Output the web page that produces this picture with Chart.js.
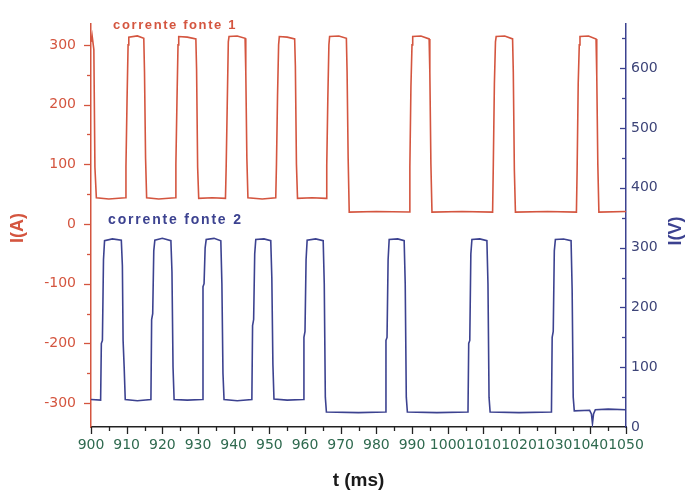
<!DOCTYPE html>
<html>
<head>
<meta charset="utf-8">
<script src="https://cdn.jsdelivr.net/npm/chart.js@4/dist/chart.umd.min.js"></script>
<style>
    html, body { margin: 0; padding: 0; background: #ffffff; }
    #wrap { width: 686px; height: 497px; position: relative; }
</style>
</head>
<body>
<div id="wrap"><canvas id="waveChart"></canvas></div>
<script>
/*
============================================================
Data
------------------------------------------------------------
*/

const tFonte1 = [
    900.0, 900.3, 900.8, 901.1, 901.5, 905.0, 909.6,
    909.8, 910.1, 910.4, 910.6, 913.0, 914.8, 915.0, 915.3, 915.6, 919.0, 923.6,
    923.8, 924.1, 924.4, 924.6, 927.0, 929.4, 929.6, 929.9, 930.2, 934.0, 937.7,
    937.9, 938.2, 938.5, 938.7, 941.0, 943.2, 943.4, 943.7, 944.0, 948.0, 951.8,
    952.0, 952.3, 952.6, 952.8, 955.0, 957.1, 957.3, 957.6, 957.9, 962.0, 965.9,
    966.1, 966.4, 966.7, 966.9, 969.5, 971.6, 971.8, 972.1, 972.4, 980.0, 989.2,
    989.4, 989.7, 990.0, 990.2, 992.5, 994.8, 995.0, 995.3, 995.6, 1004.0, 1012.6,
    1012.8, 1013.1, 1013.4, 1013.6, 1016.0, 1018.2, 1018.4, 1018.7, 1019.0, 1028.0, 1036.1,
    1036.3, 1036.6, 1036.9, 1037.1, 1039.5, 1041.6, 1041.8, 1042.1, 1042.4, 1050.0
];

const iFonte1 = [
    305, 316, 292, 95, 44, 42, 44,
    96, 205, 300, 313, 315, 311, 255, 110, 44, 42, 44,
    100, 205, 300, 314, 313, 310, 260, 95, 43, 44, 43,
    96, 200, 305, 314, 315, 311, 255, 110, 44, 42, 44,
    100, 215, 300, 314, 313, 310, 265, 100, 43, 44, 43,
    98, 210, 300, 314, 315, 311, 255, 110, 20, 21, 20,
    95, 230, 300, 314, 315, 310, 255, 100, 20, 21, 20,
    100, 235, 305, 314, 315, 310, 255, 90, 20, 21, 20,
    92, 235, 300, 314, 315, 310, 250, 100, 20, 21
];

const tFonte2 = [
    900.0, 902.7,
    902.9, 903.2, 903.5, 903.8, 906.0, 908.5, 908.8, 909.0, 909.3, 909.6, 913.0, 916.8,
    917.0, 917.3, 917.6, 917.9, 920.0, 922.4, 922.7, 923.0, 923.3, 927.0, 931.2,
    931.4, 931.7, 932.0, 932.3, 934.5, 936.4, 936.7, 937.0, 937.3, 941.0, 945.1,
    945.3, 945.6, 945.9, 946.2, 948.5, 950.4, 950.7, 951.0, 951.3, 955.0, 959.5,
    959.7, 960.0, 960.3, 960.6, 963.0, 965.1, 965.4, 965.7, 966.0, 975.0, 982.5,
    982.7, 983.0, 983.3, 983.6, 986.0, 987.8, 988.1, 988.4, 988.7, 997.0, 1005.7,
    1005.9, 1006.2, 1006.5, 1006.8, 1009.0, 1011.0, 1011.3, 1011.6, 1011.9, 1020.0, 1029.1,
    1029.3, 1029.6, 1029.9, 1030.2, 1032.5, 1034.6, 1034.9, 1035.2, 1035.5, 1039.8,
    1040.3, 1040.6, 1040.9, 1041.4, 1045.0, 1050.0
];

const iFonte2 = [
    -294, -295,
    -200, -195, -60, -28, -25, -27, -70, -195, -240, -294, -296, -294,
    -160, -150, -45, -27, -24, -28, -80, -240, -294, -295, -294,
    -105, -100, -40, -26, -24, -28, -100, -250, -294, -296, -294,
    -170, -160, -50, -26, -25, -28, -90, -235, -293, -295, -294,
    -190, -180, -60, -27, -25, -28, -100, -290, -315, -316, -315,
    -195, -190, -60, -26, -25, -28, -100, -290, -315, -316, -315,
    -200, -195, -50, -26, -25, -28, -100, -290, -315, -316, -315,
    -190, -180, -45, -26, -25, -28, -110, -290, -313, -312,
    -318, -334, -318, -311, -310, -311
];

const xTickLabels = [900, 910, 920, 930, 940, 950, 960, 970, 980, 990, 1000, 1010, 1020, 1030, 1040, 1050];
const iTickLabels = [-300, -200, -100, 0, 100, 200, 300];
const vTickLabels = [0, 100, 200, 300, 400, 500, 600];

/*
------------------------------------------------------------
Colours / fonts
------------------------------------------------------------
*/

const RED = "#d4553f";
const BLUE = "#3c4290";
const TICK_FONT = { family: "DejaVu Sans", size: 14 };

/*
------------------------------------------------------------
Custom drawing: tick marks, notes, side titles
------------------------------------------------------------
*/

const decorPlugin = {

    id: "decor",

    afterDraw(chart) {

        const { ctx, scales } = chart;
        const x = scales.x;
        const y = scales.y;
        const y2 = scales.y2;

        ctx.save();
        ctx.lineWidth = 1.3;

        // x ticks (down, outside)
        ctx.strokeStyle = "#222222";
        for (let v = 900; v <= 1050; v += 5) {
            const px = Math.round(x.getPixelForValue(v)) + 0.5;
            const len = v % 10 === 0 ? 7 : 4;
            ctx.beginPath();
            ctx.moveTo(px, x.top);
            ctx.lineTo(px, x.top + len);
            ctx.stroke();
        }

        // left ticks (outside)
        ctx.strokeStyle = RED;
        for (let v = -300; v <= 300; v += 50) {
            const py = Math.round(y.getPixelForValue(v)) + 0.5;
            const len = v % 100 === 0 ? 7 : 4;
            ctx.beginPath();
            ctx.moveTo(y.right, py);
            ctx.lineTo(y.right - len, py);
            ctx.stroke();
        }

        // right ticks (inside)
        ctx.strokeStyle = BLUE;
        for (let v = 50; v <= 650; v += 50) {
            const py = Math.round(y2.getPixelForValue(v)) + 0.5;
            const len = v % 100 === 0 ? 6 : 4;
            ctx.beginPath();
            ctx.moveTo(y2.left, py);
            ctx.lineTo(y2.left - len, py);
            ctx.stroke();
        }

        // notes
        ctx.textBaseline = "middle";
        ctx.textAlign = "left";

        ctx.font = "bold 13px 'Liberation Sans', Arial, sans-serif";
        ctx.letterSpacing = "1.6px";
        ctx.fillStyle = RED;
        ctx.fillText("corrente fonte 1", x.getPixelForValue(906.2), y.getPixelForValue(333));

        ctx.font = "bold 14px 'Liberation Sans', Arial, sans-serif";
        ctx.letterSpacing = "1.8px";
        ctx.fillStyle = BLUE;
        ctx.fillText("corrente fonte 2", x.getPixelForValue(904.8), y.getPixelForValue(6));

        // side titles (both read bottom to top)
        ctx.letterSpacing = "0px";
        ctx.font = "bold 18px 'Liberation Sans', Arial, sans-serif";
        ctx.textAlign = "center";

        ctx.save();
        ctx.translate(18, 228);
        ctx.rotate(-Math.PI / 2);
        ctx.fillStyle = RED;
        ctx.fillText("I(A)", 0, 0);
        ctx.restore();

        ctx.save();
        ctx.translate(676, 231);
        ctx.rotate(-Math.PI / 2);
        ctx.fillStyle = BLUE;
        ctx.fillText("I(V)", 0, 0);
        ctx.restore();

        ctx.restore();

    }

};

/*
------------------------------------------------------------
Chart
------------------------------------------------------------
*/

function initializeChart() {

    const ctx =
        document
            .getElementById("waveChart")
            .getContext("2d");

    new Chart(ctx, {

        type: "line",

        data: {

            datasets: [

                {
                    label: "corrente fonte 1",
                    data: tFonte1.map((t, i) => ({ x: t, y: iFonte1[i] })),
                    borderColor: RED,
                    borderWidth: 1.6,
                    pointRadius: 0,
                    tension: 0,
                    yAxisID: "y"
                },

                {
                    label: "corrente fonte 2",
                    data: tFonte2.map((t, i) => ({ x: t, y: iFonte2[i] })),
                    borderColor: BLUE,
                    borderWidth: 1.6,
                    pointRadius: 0,
                    tension: 0,
                    yAxisID: "y"
                }

            ]

        },

        options: {

            responsive: true,
            maintainAspectRatio: false,
            devicePixelRatio: 1,
            animation: false,

            layout: {
                padding: { top: 15, left: 0, right: 0, bottom: 0 }
            },

            plugins: {
                legend: { display: false },
                tooltip: { enabled: false }
            },

            scales: {

                x: {
                    type: "linear",
                    min: 900,
                    max: 1050,
                    afterBuildTicks: (s) => { s.ticks = xTickLabels.map(v => ({ value: v })); },
                    afterFit: (s) => { s.height = 70; },
                    grid: { display: true, drawOnChartArea: false, drawTicks: false },
                    border: { display: true, color: "#222222", width: 1.5 },
                    ticks: {
                        autoSkip: false,
                        maxRotation: 0,
                        padding: 10,
                        color: "#2f6a4f",
                        font: TICK_FONT,
                        callback: (v) => String(v)
                    },
                    title: {
                        display: true,
                        text: "t (ms)",
                        color: "#1a1a1a",
                        font: { family: "'Liberation Sans', Arial, sans-serif", size: 19, weight: "bold" },
                        padding: { top: 0, bottom: 5 }
                    }
                },

                y: {
                    position: "left",
                    min: -340,
                    max: 336,
                    afterBuildTicks: (s) => { s.ticks = iTickLabels.map(v => ({ value: v })); },
                    afterFit: (s) => { s.width = 91; },
                    grid: { display: true, drawOnChartArea: false, drawTicks: false },
                    border: { display: true, color: RED, width: 1.5 },
                    ticks: {
                        padding: 15,
                        color: RED,
                        font: TICK_FONT,
                        callback: (v) => String(v)
                    }
                },

                y2: {
                    position: "right",
                    min: 0,
                    max: 675,
                    afterBuildTicks: (s) => { s.ticks = vTickLabels.map(v => ({ value: v })); },
                    afterFit: (s) => { s.width = 60; },
                    grid: { display: true, drawOnChartArea: false, drawTicks: false },
                    border: { display: true, color: BLUE, width: 1.5 },
                    ticks: {
                        padding: 5,
                        color: "#3d4478",
                        font: TICK_FONT,
                        callback: (v) => String(v)
                    }
                }

            }

        },

        plugins: [decorPlugin]

    });

}

initializeChart();
</script>
</body>
</html>
